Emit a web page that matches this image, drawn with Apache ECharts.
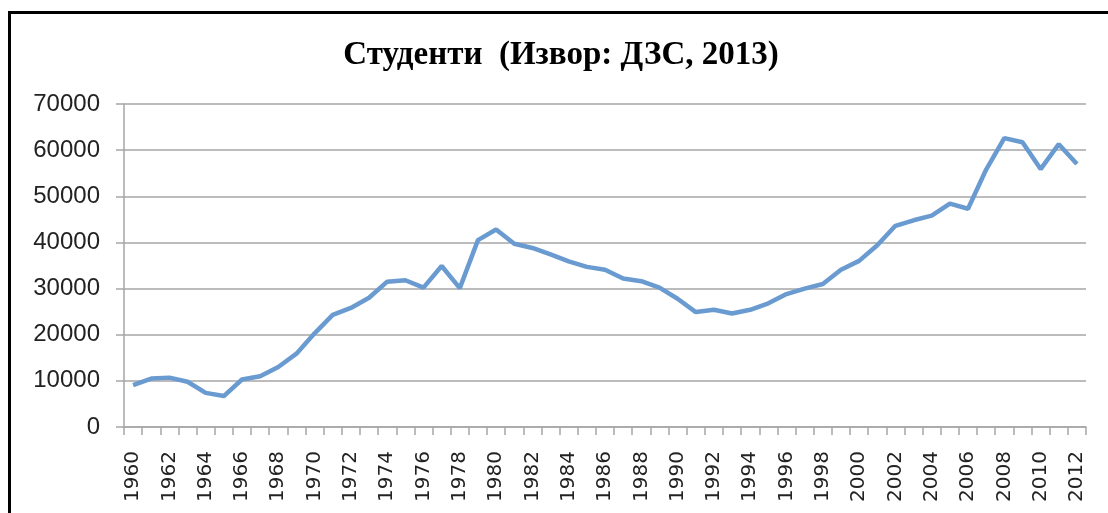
<!DOCTYPE html>
<html>
<head>
<meta charset="utf-8">
<script src="https://cdn.jsdelivr.net/npm/echarts@6/dist/echarts.min.js"></script>
<style>
    html, body { margin: 0; padding: 0; background: #fff; }
    #chart { width: 1108px; height: 513px; }
</style>
</head>
<body>
<div id="chart"></div>
<script>
    // години
    var years = [];
    for (var y = 1960; y <= 2012; y++) years.push(String(y));

    // број на студенти, прочитано од графиконот
    var students = [
        9100, 10500, 10700, 9800, 7400, 6700, 10300, 11000, 13000, 15900,
        20300, 24300, 25800, 28000, 31500, 31800, 30200, 34900, 30100, 40500,
        42800, 39700, 38800, 37400, 35900, 34700, 34100, 32200, 31600, 30200,
        27800, 24900, 25400, 24600, 25400, 26800, 28800, 30000, 31000, 34100,
        36000, 39400, 43600, 44800, 45800, 48400, 47300, 55800, 62600, 61700,
        55900, 61300, 57000
    ];

    var yTicks = [0, 10000, 20000, 30000, 40000, 50000, 60000, 70000];

    var chart = echarts.init(document.getElementById('chart'));
    chart.setOption({
        animation: false,
        title: {
            text: 'Студенти  (Извор: ДЗС, 2013)',
            left: 556,
            textAlign: 'center',
            top: 34,
            textStyle: {
                fontFamily: 'Liberation Serif',
                fontWeight: 'bold',
                fontSize: 33,
                color: '#000'
            }
        },
        // рамка околу графиконот
        graphic: [{
            type: 'rect',
            shape: { x: 9.5, y: 12.5, width: 1200, height: 600 },
            style: { fill: 'none', stroke: '#000', lineWidth: 3 }
        }],
        grid: { left: 124, right: 22, top: 104, bottom: 86 },
        xAxis: {
            type: 'category',
            data: years,
            boundaryGap: true,
            axisLine: { lineStyle: { color: '#a6a6a6', width: 1.5 } },
            axisTick: { show: true, interval: 0, length: 8, lineStyle: { color: '#a6a6a6', width: 1.5 } },
            axisLabel: {
                interval: 1,
                rotate: 90,
                margin: 24,
                fontFamily: 'DejaVu Sans',
                fontSize: 20,
                color: '#222'
            },
            splitLine: { show: false }
        },
        yAxis: {
            type: 'value',
            min: yTicks[0],
            max: yTicks[yTicks.length - 1],
            interval: 10000,
            axisLine: { show: true, lineStyle: { color: '#a6a6a6', width: 1.5 } },
            axisTick: { show: true, length: 8, lineStyle: { color: '#a6a6a6', width: 1.5 } },
            axisLabel: {
                margin: 24,
                fontFamily: 'Liberation Sans',
                fontSize: 24,
                color: '#222',
                formatter: function (v) { return String(v); }
            },
            splitLine: { lineStyle: { color: '#a6a6a6', width: 1.5 } }
        },
        series: [{
            name: 'Студенти',
            type: 'line',
            data: students,
            symbol: 'none',
            smooth: false,
            lineStyle: { color: '#6a9bd0', width: 4.5 }
        }]
    });
</script>
</body>
</html>
